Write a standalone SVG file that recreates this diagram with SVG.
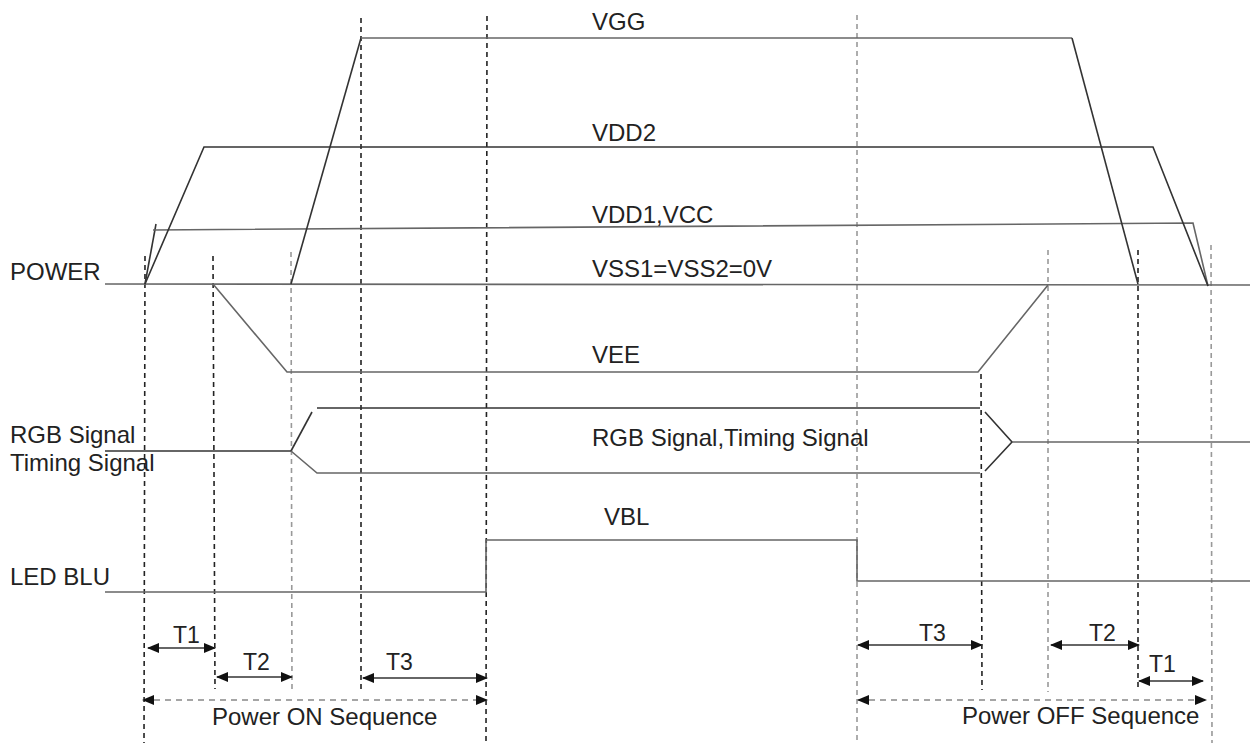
<svg xmlns="http://www.w3.org/2000/svg" width="1250" height="743" viewBox="0 0 1250 743">
<style>
.sig{fill:none;stroke:#666;stroke-width:1.6}
.dk{fill:none;stroke:#333;stroke-width:1.6}
.vd{fill:none;stroke:#222;stroke-width:1.6;stroke-dasharray:5,4}
.vg{fill:none;stroke:#999;stroke-width:1.6;stroke-dasharray:5,4}
.arr{fill:none;stroke:#666;stroke-width:1.8;marker-start:url(#ah);marker-end:url(#ah)}
.seq{fill:none;stroke:#888;stroke-width:1.6;stroke-dasharray:6,5;marker-start:url(#ah);marker-end:url(#ah)}
text{font-family:"Liberation Sans",Arial,sans-serif;font-size:24px;fill:#222}
.t{font-size:23px}
</style>
<defs>
<marker id="ah" viewBox="0 0 12 10" refX="11" refY="5" markerWidth="12" markerHeight="10" markerUnits="userSpaceOnUse" orient="auto-start-reverse">
<path d="M0,0 L12,5 L0,10 Z" fill="#111"/>
</marker>
</defs>
<rect width="1250" height="743" fill="#fff"/>
<g id="guides">
<line class="vd" x1="145" y1="256" x2="144" y2="743"/>
<line class="vd" x1="213" y1="256" x2="215" y2="689"/>
<line class="vg" x1="291" y1="252" x2="292" y2="690"/>
<line class="vd" x1="361" y1="18" x2="361" y2="689"/>
<line class="vd" x1="487" y1="16" x2="486" y2="743"/>
<line class="vg" x1="857" y1="15" x2="857" y2="743"/>
<line class="vd" x1="981" y1="374" x2="982" y2="690"/>
<line class="vg" x1="1048" y1="250" x2="1048" y2="692"/>
<line class="vd" x1="1138" y1="250" x2="1138" y2="690"/>
<line class="vg" x1="1211" y1="245" x2="1212" y2="743"/>
</g>
<g id="connectors">
<line class="sig" x1="105" y1="284" x2="1250" y2="285"/>
<polyline class="dk" points="145,284 156,224"/>
<polyline class="sig" points="153,230 1193,223 1208,286"/>
<polyline class="dk" points="145,284 204,147 1153,147 1208,286"/>
<polyline class="dk" points="291,284 361,38"/>
<polyline class="sig" points="361,38 1072,38"/>
<polyline class="dk" points="1072,38 1138,284"/>
<polyline class="sig" points="213,284 287,372 978,372 1048,285"/>
<polyline class="dk" points="105,451 291,451"/>
<polyline class="dk" points="291,451 312,412"/>
<polyline class="dk" points="317,408 980,408"/>
<polyline class="sig" points="291,451 317,473 980,473"/>
<polyline class="dk" points="985,412 1012,442 985,471"/>
<polyline class="sig" points="1012,442 1250,442"/>
<polyline class="sig" points="105,592 486,592 486,540 857,540 857,581 1250,581"/>
<line class="arr" x1="148" y1="648" x2="215" y2="648"/>
<line class="arr" x1="217" y1="677" x2="292" y2="677"/>
<line class="arr" x1="363" y1="678" x2="487" y2="678"/>
<line class="seq" x1="143" y1="700" x2="487" y2="700"/>
<line class="arr" x1="858" y1="645" x2="982" y2="645"/>
<line class="arr" x1="1051" y1="645" x2="1139" y2="645"/>
<line class="arr" x1="1139" y1="681" x2="1203" y2="681"/>
<line class="seq" x1="858" y1="700" x2="1206" y2="700"/>
</g>
<g id="labels">
<text x="592" y="30">VGG</text>
<text x="592" y="141">VDD2</text>
<text x="592" y="223">VDD1,VCC</text>
<text x="592" y="277">VSS1=VSS2=0V</text>
<text x="592" y="363">VEE</text>
<text x="592" y="446">RGB Signal,Timing Signal</text>
<text x="604" y="525">VBL</text>
<text x="10" y="280">POWER</text>
<text x="10" y="443">RGB Signal</text>
<text x="10" y="471">Timing Signal</text>
<text x="10" y="585">LED BLU</text>
<text class="t" x="173" y="643">T1</text>
<text class="t" x="243" y="670">T2</text>
<text class="t" x="386" y="670">T3</text>
<text x="212" y="725">Power ON Sequence</text>
<text class="t" x="919" y="641">T3</text>
<text class="t" x="1089" y="641">T2</text>
<text class="t" x="1149" y="672">T1</text>
<text x="962" y="724">Power OFF Sequence</text>
</g>
</svg>
